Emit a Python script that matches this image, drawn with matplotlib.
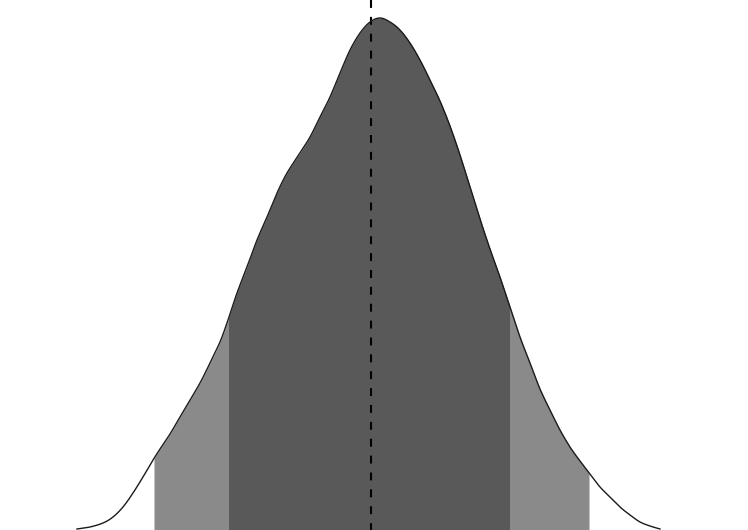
import numpy as np
import matplotlib
matplotlib.use("Agg")
import matplotlib.pyplot as plt

# Density curve (x: parameter value, y: density)
x_vals = [-5.88, -5.62, -5.36, -5.16, -4.96, -4.76, -4.56, -4.36, -4.22, -4.02,
          -3.82, -3.62, -3.42, -3.22, -3.02, -2.86, -2.68, -2.48, -2.28, -2.08,
          -1.88, -1.68, -1.42, -1.22, -1.02, -0.82, -0.62, -0.42, -0.22, -0.02,
          0.18, 0.38, 0.58, 0.78, 0.98, 1.18, 1.38, 1.58, 1.78, 1.98,
          2.18, 2.38, 2.58, 2.78, 2.98, 3.18, 3.38, 3.58, 3.78, 3.98,
          4.18, 4.38, 4.58, 4.78, 4.98, 5.18, 5.38, 5.58, 5.78]
dens = [0.01, 0.03, 0.07, 0.13, 0.23, 0.37, 0.53, 0.70, 0.81, 0.96,
        1.13, 1.30, 1.47, 1.67, 1.88, 2.10, 2.37, 2.63, 2.90, 3.13,
        3.37, 3.57, 3.77, 3.93, 4.13, 4.33, 4.57, 4.80, 4.97, 5.08,
        5.12, 5.08, 5.00, 4.87, 4.70, 4.50, 4.29, 4.04, 3.75, 3.43,
        3.11, 2.81, 2.53, 2.23, 1.93, 1.67, 1.41, 1.20, 1.00, 0.83,
        0.69, 0.56, 0.43, 0.33, 0.23, 0.15, 0.08, 0.04, 0.01]
median = 0.0
inner = (-2.85, 2.77)
outer = (-4.34, 4.36)

x = np.array(x_vals)
y = np.array(dens)


def catmull_rom(px, py, n=12):
    """Smooth drawing path through the given points."""
    P = np.column_stack([px, py])
    P = np.vstack([P[0], P, P[-1]])
    out = []
    t = np.linspace(0, 1, n, endpoint=False)[:, None]
    for i in range(1, len(P) - 2):
        p0, p1, p2, p3 = P[i - 1], P[i], P[i + 1], P[i + 2]
        seg = 0.5 * ((2 * p1) + (-p0 + p2) * t
                     + (2 * p0 - 5 * p1 + 4 * p2 - p3) * t ** 2
                     + (-p0 + 3 * p1 - 3 * p2 + p3) * t ** 3)
        out.append(seg)
    out.append(P[-2][None, :])
    out = np.vstack(out)
    return out[:, 0], out[:, 1]


sx, sy = catmull_rom(x, y)

fig = plt.figure(figsize=(7.48, 5.30), dpi=100)
ax = fig.add_axes([0, 0, 1, 1])
ax.set_xlim(-7.42, 7.54)
ax.set_ylim(0, 5.30)
ax.axis("off")


def band(lo, hi, color):
    m = (sx > lo) & (sx < hi)
    xs = np.concatenate(([lo], sx[m], [hi]))
    ys = np.interp(xs, sx, sy)
    ax.fill_between(xs, 0, ys, color=color, linewidth=0, zorder=1)


band(outer[0], outer[1], "#8a8a8a")
band(inner[0], inner[1], "#595959")

ax.plot([median, median], [5.30, 0], color="black", lw=1.5,
        dashes=(3.8, 4.3), zorder=2)
ax.plot(sx, sy, color="#1a1a1a", lw=1.0, zorder=3, solid_joinstyle="round")

fig.savefig("out.png", dpi=100)
